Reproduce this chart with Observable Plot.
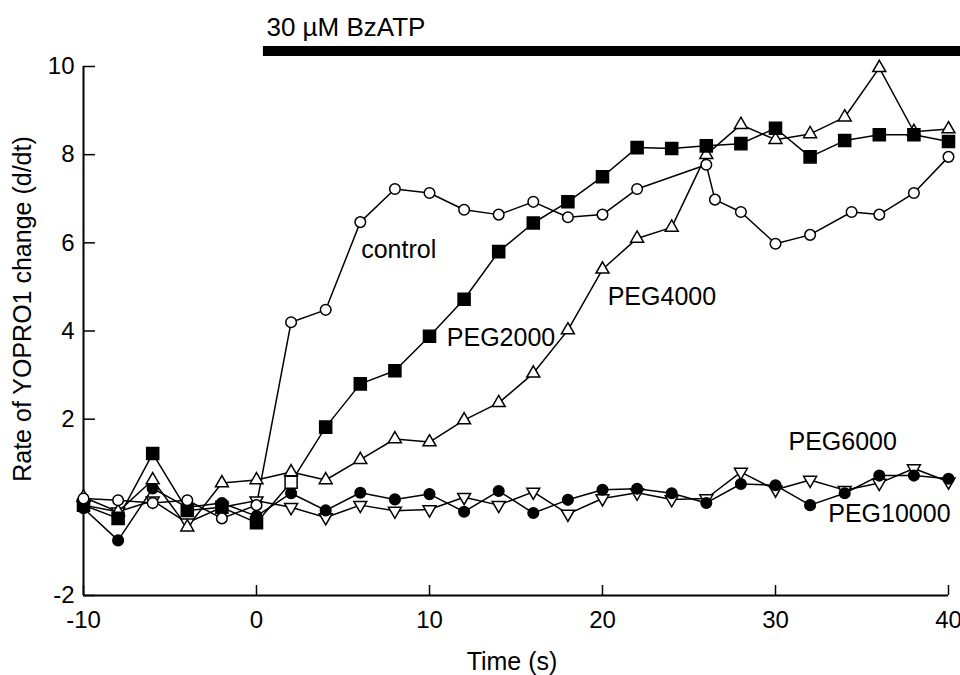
<!DOCTYPE html>
<html>
<head>
<meta charset="utf-8">
<script src="https://cdn.jsdelivr.net/npm/d3@7"></script>
<script src="https://cdn.jsdelivr.net/npm/@observablehq/plot@0.6"></script>
<style>
  html, body { margin: 0; padding: 0; background: #fff; }
  #chart { width: 960px; height: 675px; }
</style>
</head>
<body>
<div id="chart"></div>
<script>
// ---- data ----
const times = [-10,-8,-6,-4,-2,0,2,4,6,8,10,12,14,16,18,20,22,24,26,28,30,32,34,36,38,40];
const controlTimes = [-10,-8,-6,-4,-2,0,2,4,6,8,10,12,14,16,18,20,22,26,26.5,28,30,32,34.4,36,38,40];
const control  = [0.2,0.16,0.1,0.16,-0.25,0.05,4.2,4.48,6.47,7.22,7.13,6.75,6.64,6.93,6.58,6.64,7.22,7.77,6.98,6.7,5.98,6.18,6.7,6.64,7.13,7.95];
const peg2000  = [0.05,-0.25,1.22,-0.07,0.0,-0.35,0.57,1.82,2.8,3.1,3.88,4.72,5.8,6.45,6.93,7.5,8.16,8.14,8.2,8.25,8.6,7.95,8.32,8.45,8.45,8.3];
const peg4000  = [0.23,-0.1,0.62,-0.45,0.55,0.62,0.8,0.62,1.08,1.55,1.48,1.98,2.37,3.04,4.02,5.4,6.1,6.35,8.0,8.68,8.34,8.47,8.85,9.97,8.52,8.58];
const peg6000  = [0.05,-0.1,0.15,-0.35,0.0,0.15,0.0,-0.23,0.05,-0.08,-0.05,0.23,0.05,0.35,-0.15,0.2,0.33,0.18,0.2,0.8,0.4,0.62,0.39,0.55,0.88,0.58];
const peg10000 = [-0.02,-0.75,0.43,0.0,0.1,-0.2,0.32,-0.07,0.33,0.18,0.3,-0.1,0.37,-0.13,0.17,0.4,0.42,0.32,0.1,0.53,0.5,0.05,0.32,0.72,0.72,0.65];

const xTicks = [-10, 0, 10, 20, 30, 40];
const yTicks = [-2, 2, 4, 6, 8, 10];

const seriesLabels = [
  {name: "control",  t: 6.05, v: 5.84},
  {name: "PEG2000",  t: 11.0, v: 3.84},
  {name: "PEG4000",  t: 20.3, v: 4.77},
  {name: "PEG6000",  t: 30.75, v: 1.48},
  {name: "PEG10000", t: 33.05, v: -0.14}
];
const stimulus = {label: "30 \u00B5M BzATP", start: 0.4, end: 41, level: 10.35, labelLevel: 10.89};

// ---- build rows ----
const rows = (ts, vs) => ts.map((t, i) => ({t, v: vs[i]}));
const dControl = rows(controlTimes, control);
const d2000 = rows(times, peg2000);
const d4000 = rows(times, peg4000);
const d6000 = rows(times, peg6000);
const d10000 = rows(times, peg10000);

const font = "'Liberation Sans', Arial, Helvetica, sans-serif";
const lineOpts = {x: "t", y: "v", stroke: "black", strokeWidth: 1.5};
const dotBase = {x: "t", y: "v", stroke: "black", strokeWidth: 1.5};

const W = 960, H = 675, mL = 83, mR = 12, mT = 66, mB = 80;

const chart = Plot.plot({
  width: W, height: H,
  marginLeft: mL, marginRight: mR, marginTop: mT, marginBottom: mB,
  style: {fontFamily: font, fontSize: "24px", background: "white", color: "black", overflow: "visible"},
  x: {domain: [-10, 40]},
  y: {domain: [-2, 10]},
  marks: [
    // axes
    Plot.ruleX([-10], {strokeWidth: 2}),
    Plot.ruleY([-2], {strokeWidth: 2}),
    Plot.tickX(xTicks, {x: d => d, insetTop: (H - mT - mB) - 10, strokeWidth: 1.5}),
    Plot.tickY(yTicks, {y: d => d, insetRight: (W - mL - mR) - 12, strokeWidth: 1.5}),
    Plot.axisX({ticks: xTicks, tickSize: 0, tickPadding: 15, tickFormat: d => String(d), label: null, fontSize: 24}),
    Plot.axisY({ticks: yTicks, tickSize: 0, tickPadding: 9, tickFormat: d => String(d), label: null, fontSize: 24}),
    Plot.text(["Time (s)"], {frameAnchor: "bottom", textAnchor: "middle", dy: 74, dx: -4, fontSize: 25, text: d => d}),
    Plot.text(["Rate of YOPRO1 change (d/dt)"], {frameAnchor: "left", textAnchor: "middle", dx: -61, dy: -22, rotate: -90, fontSize: 25, text: d => d}),
    // stimulus bar
    Plot.ruleY([stimulus], {y: "level", x1: "start", x2: "end", strokeWidth: 10, stroke: "black"}),
    Plot.text([stimulus], {x: "start", y: "labelLevel", text: "label", textAnchor: "start", dx: 3, fontSize: 26}),
    // lines
    Plot.line(dControl, lineOpts),
    Plot.line(d2000, lineOpts),
    Plot.line(d4000, lineOpts),
    Plot.line(d6000, lineOpts),
    Plot.line(d10000, lineOpts),
    // markers
    Plot.dot(d6000, {...dotBase, symbol: "triangle", r: 4.8, rotate: 180, fill: "white"}),
    Plot.dot(d10000, {...dotBase, symbol: "circle", r: 5.3, fill: "black"}),
    Plot.dot(d4000, {...dotBase, symbol: "triangle", r: 4.8, fill: "white"}),
    Plot.dot(d2000, {...dotBase, symbol: "square", r: 6.8, fill: d => d.t === 2 ? "white" : "black"}),
    Plot.dot(dControl, {...dotBase, symbol: "circle", r: 5.3, fill: "white"}),
    // series labels
    Plot.text(seriesLabels, {x: "t", y: "v", text: "name", textAnchor: "start", fontSize: 25})
  ]
});
document.getElementById("chart").appendChild(chart);
</script>
</body>
</html>
